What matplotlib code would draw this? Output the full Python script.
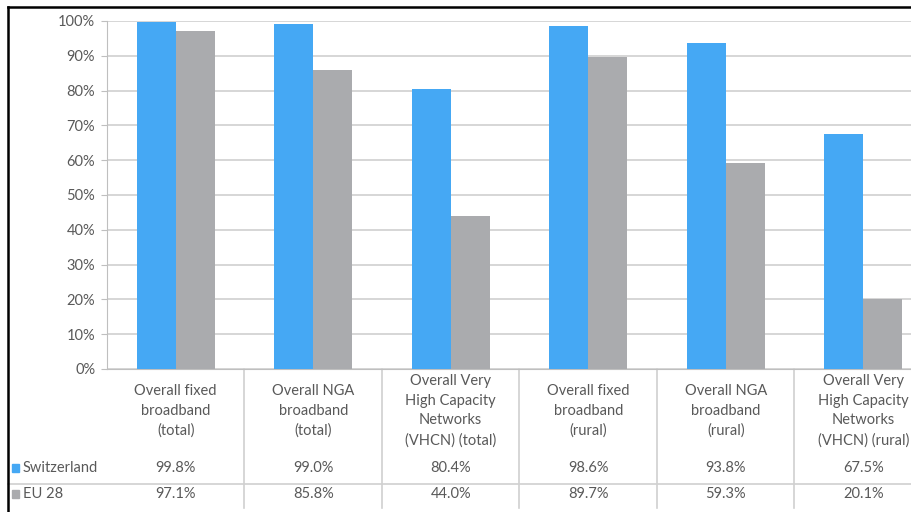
import numpy as np
import matplotlib.pyplot as plt
import matplotlib.transforms as mtransforms
from matplotlib.lines import Line2D
from matplotlib.patches import Rectangle
from matplotlib.ticker import PercentFormatter

# Broadband coverage, Switzerland vs EU 28
categories = ['Overall fixed\nbroadband\n(total)',
              'Overall NGA\nbroadband\n(total)',
              'Overall Very\nHigh Capacity\nNetworks\n(VHCN) (total)',
              'Overall fixed\nbroadband\n(rural)',
              'Overall NGA\nbroadband\n(rural)',
              'Overall Very\nHigh Capacity\nNetworks\n(VHCN) (rural)']
switzerland = [99.8, 99.0, 80.4, 98.6, 93.8, 67.5]
eu28 = [97.1, 85.8, 44.0, 89.7, 59.3, 20.1]
series_names = ['Switzerland', 'EU 28']

blue = '#45A8F4'
grey = '#AAABAE'
text_col = '#595959'
line_col = '#D0D0D0'

plt.rcParams['font.family'] = ['Lato', 'DejaVu Sans']
plt.rcParams['font.size'] = 10.5

W, H = 912, 512
fig = plt.figure(figsize=(W / 100, H / 100), dpi=100)

def fy(py):
    return 1 - py / H

# plot area runs past the right edge of the figure
x0, x1 = 107, 932
ytop, ybot = 21, 369
ax = fig.add_axes([x0 / W, fy(ybot), (x1 - x0) / W, (ybot - ytop) / H])

x = np.arange(len(categories))
w = 0.285
ax.bar(x - w / 2, np.array(switzerland) / 100, w, color=blue, zorder=3)
ax.bar(x + w / 2, np.array(eu28) / 100, w, color=grey, zorder=3)

ax.set_xlim(-0.5, len(categories) - 0.5)
ax.set_ylim(0, 1.0)
ax.set_yticks(np.arange(0, 1.01, 0.1))
ax.yaxis.set_major_formatter(PercentFormatter(1.0, decimals=0))
ax.set_xticks([])
ax.grid(axis='y', color=line_col, linewidth=1.2, zorder=0)
for s in ['top', 'right']:
    ax.spines[s].set_visible(False)
ax.spines['left'].set_color('#BFBFBF')
ax.spines['bottom'].set_color('#BFBFBF')
ax.tick_params(axis='y', colors='#BFBFBF', labelcolor=text_col, length=4.5,
               pad=4, labelsize=10.5)

# data table under the plot
tr = mtransforms.blended_transform_factory(ax.transData, fig.transFigure)
for i, lab in enumerate(categories):
    ax.text(i, fy(411), lab, transform=tr, ha='center', va='center',
            color=text_col, linespacing=1.5, clip_on=False)
    ax.text(i, fy(468), f'{switzerland[i]:.1f}%', transform=tr, ha='center',
            va='center', color=text_col, clip_on=False)
    ax.text(i, fy(494), f'{eu28[i]:.1f}%', transform=tr, ha='center',
            va='center', color=text_col, clip_on=False)
for b in np.arange(0.5, len(categories) - 0.5, 1):
    ax.add_line(Line2D([b, b], [fy(ybot), fy(508)], transform=tr,
                       color=line_col, linewidth=1.2, clip_on=False))

fig.add_artist(Line2D([8 / W, 1], [fy(484), fy(484)], color=line_col,
                      linewidth=1.2))

# legend keys in the table rows
for py, col, name in [(468, blue, series_names[0]), (494, grey, series_names[1])]:
    fig.add_artist(Rectangle((12 / W, fy(py + 4)), 7 / W, 8 / H,
                             transform=fig.transFigure, color=col))
    fig.text(23 / W, fy(py), name, ha='left', va='center', color=text_col)

# outer frame
fig.add_artist(Line2D([8 / W, 8 / W], [0, fy(7)], color='black', linewidth=1.8))
fig.add_artist(Line2D([8 / W, 1], [fy(7), fy(7)], color='black', linewidth=1.8))

fig.savefig('out.png', dpi=100)
